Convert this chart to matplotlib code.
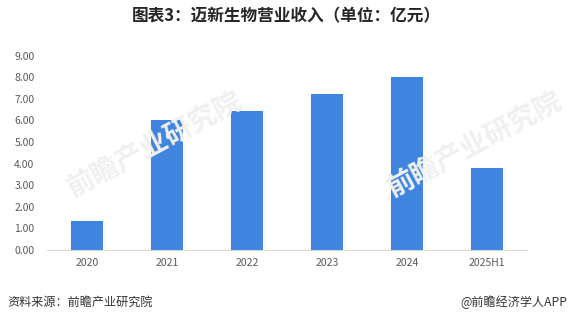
import matplotlib
matplotlib.use("Agg")
import matplotlib.pyplot as plt

plt.rcParams['font.family'] = ['Noto Sans CJK SC', 'DejaVu Sans']

categories = ["2020", "2021", "2022", "2023", "2024", "2025H1"]
revenue = [1.34, 6.02, 6.43, 7.22, 8.01, 3.80]
yticks = [0, 1, 2, 3, 4, 5, 6, 7, 8, 9]
title = "图表3：迈新生物营业收入（单位：亿元）"
source = "资料来源：前瞻产业研究院"
brand = "@前瞻经济学人APP"

fig = plt.figure(figsize=(5.72, 3.2), dpi=100)
ax = fig.add_axes([47/572, 1-250/320, 480/572, (250-55.7)/320])

# watermarks
for (wx, wy) in [(0.27, 0.55), (0.83, 0.55)]:
    fig.text(wx, wy, "前瞻产业研究院", fontsize=20, color="#f0f0f0", rotation=28,
             ha="center", va="center", fontweight="bold", zorder=0)

x = list(range(len(categories)))
ax.bar(x, revenue, width=0.4, color="#3F84DE", zorder=3)
ax.set_xlim(-0.5, len(categories) - 0.5)
ax.set_ylim(0, 9)
ax.set_yticks(yticks)
ax.set_yticklabels([f"{v:.2f}" for v in yticks])
ax.set_xticks(x)
ax.set_xticklabels(categories)
ax.patch.set_alpha(0)
for s in ["top", "right", "left"]:
    ax.spines[s].set_visible(False)
ax.spines["bottom"].set_color("#d9d9d9")
ax.spines["bottom"].set_linewidth(0.8)
ax.tick_params(axis="both", length=0, labelsize=7.5, labelcolor="#595959")
ax.tick_params(axis="y", pad=9)
ax.tick_params(axis="x", pad=6)

fig.text(0.5, 1-16.5/320, title, ha="center", va="center", fontsize=12,
         fontweight="bold", color="#262626")
fig.text(7/572, 1-302/320, source, ha="left", va="center", fontsize=8.7, color="#333333")
fig.text(567/572, 1-302/320, brand, ha="right", va="center", fontsize=8.7, color="#333333")

fig.savefig("out.png", dpi=100)
